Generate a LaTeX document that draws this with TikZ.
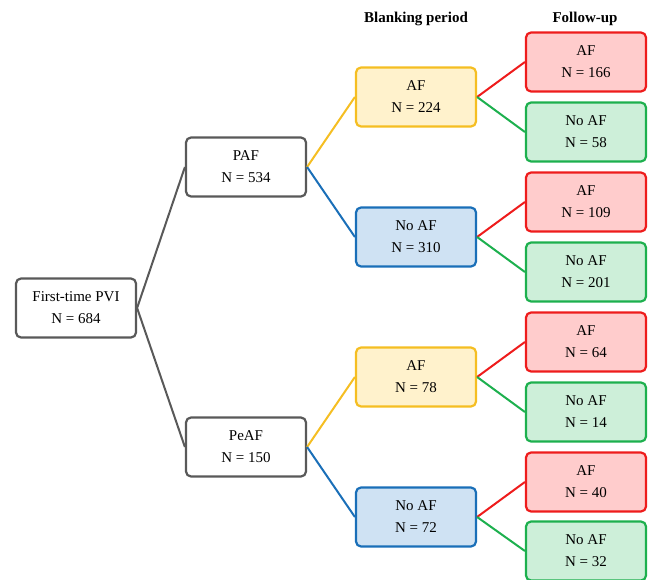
\documentclass[tikz,border=0pt]{standalone}
\usepackage{fontspec}
\setmainfont{Liberation Serif}
\definecolor{grayb}{HTML}{595959}
\definecolor{yelb}{HTML}{F5BE22}
\definecolor{yelf}{HTML}{FFF2CC}
\definecolor{blub}{HTML}{1A6FB8}
\definecolor{bluf}{HTML}{CFE2F3}
\definecolor{redb}{HTML}{EE1C1C}
\definecolor{redf}{HTML}{FFCCCC}
\definecolor{grnb}{HTML}{1DB04E}
\definecolor{grnf}{HTML}{CDEFD9}
\tikzset{
  box/.style={draw, line width=2.2pt, rounded corners=5pt, minimum width=120pt, minimum height=59pt,
    align=center, font=\fontsize{15}{22}\selectfont, inner sep=0pt},
  graybox/.style={box, draw=grayb, fill=white},
  yelbox/.style={box, draw=yelb, fill=yelf},
  blubox/.style={box, draw=blub, fill=bluf},
  redbox/.style={box, draw=redb, fill=redf},
  grnbox/.style={box, draw=grnb, fill=grnf},
  conn/.style={line width=2pt},
  hdr/.style={font=\bfseries\fontsize{15}{17}\selectfont}
}
\begin{document}
\begin{tikzpicture}[x=1pt,y=-1pt]
\useasboundingbox (0,0) rectangle (651,580);
\node[hdr] (h1) at (416,19) {Blanking period};
\node[hdr] (h2) at (585,19) {Follow-up};
\node[graybox] (root) at (76,308) {First-time PVI\\N = 684};
\node[graybox] (paf) at (246,167) {PAF\\N = 534};
\node[graybox] (peaf) at (246,447) {PeAF\\N = 150};
\node[yelbox] (b1) at (416,97) {AF\\N = 224};
\node[blubox] (b2) at (416,237) {No AF\\N = 310};
\node[yelbox] (b3) at (416,377) {AF\\N = 78};
\node[blubox] (b4) at (416,517) {No AF\\N = 72};
\node[redbox] (f1) at (586,62) {AF\\N = 166};
\node[grnbox] (f2) at (586,132) {No AF\\N = 58};
\node[redbox] (f3) at (586,202) {AF\\N = 109};
\node[grnbox] (f4) at (586,272) {No AF\\N = 201};
\node[redbox] (f5) at (586,342) {AF\\N = 64};
\node[grnbox] (f6) at (586,412) {No AF\\N = 14};
\node[redbox] (f7) at (586,482) {AF\\N = 40};
\node[grnbox] (f8) at (586,551) {No AF\\N = 32};
\draw[conn, grayb] (root.east) -- (paf.west);
\draw[conn, grayb] (root.east) -- (peaf.west);
\draw[conn, yelb] (paf.east) -- (b1.west);
\draw[conn, blub] (paf.east) -- (b2.west);
\draw[conn, yelb] (peaf.east) -- (b3.west);
\draw[conn, blub] (peaf.east) -- (b4.west);
\draw[conn, redb] (b1.east) -- (f1.west);
\draw[conn, grnb] (b1.east) -- (f2.west);
\draw[conn, redb] (b2.east) -- (f3.west);
\draw[conn, grnb] (b2.east) -- (f4.west);
\draw[conn, redb] (b3.east) -- (f5.west);
\draw[conn, grnb] (b3.east) -- (f6.west);
\draw[conn, redb] (b4.east) -- (f7.west);
\draw[conn, grnb] (b4.east) -- (f8.west);
\end{tikzpicture}
\end{document}
